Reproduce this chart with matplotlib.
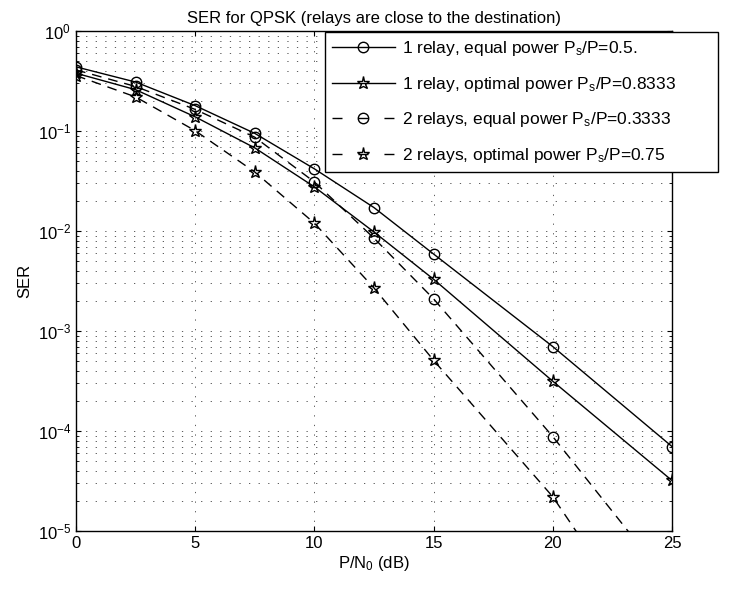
import matplotlib
matplotlib.use("Agg")
import matplotlib.pyplot as plt
import numpy as np

plt.rcParams['font.family'] = ['Liberation Sans', 'DejaVu Sans']
plt.rcParams['mathtext.fontset'] = 'custom'
plt.rcParams['mathtext.rm'] = 'Liberation Sans'
plt.rcParams['mathtext.it'] = 'Liberation Sans'

snr_db = [0, 2.5, 5, 7.5, 10, 12.5, 15, 20, 25]

ser_1relay_equal = [0.44, 0.31, 0.18, 0.095, 0.042, 0.0172, 0.0059, 7.0e-4, 7.0e-5]
ser_1relay_opt = [0.38, 0.26, 0.139, 0.068, 0.0277, 0.0098, 0.0033, 3.15e-4, 3.2e-5]
ser_2relay_equal = [0.41, 0.28, 0.165, 0.087, 0.031, 0.0085, 0.0021, 8.8e-5, 2.8e-6]
ser_2relay_opt = [0.36, 0.22, 0.101, 0.039, 0.012, 0.0027, 5.1e-4, 2.2e-5, 3.8e-7]

labels = [
    '1 relay, equal power P$_s$/P=0.5.',
    '1 relay, optimal power P$_s$/P=0.8333',
    '2 relays, equal power P$_s$/P=0.3333',
    '2 relays, optimal power P$_s$/P=0.75',
]

fig = plt.figure(figsize=(7.36, 5.89), dpi=100)
ax = fig.add_axes([0.1033, 0.0985, 0.8097, 0.8485])

ms_o = 7.5
ms_s = 9.5
dash = (7, 5)
ax.semilogy(snr_db, ser_1relay_equal, 'k-o', mfc='none', ms=ms_o, lw=1, label=labels[0])
ax.semilogy(snr_db, ser_1relay_opt, 'k-*', mfc='none', ms=ms_s, lw=1, label=labels[1])
ax.semilogy(snr_db, ser_2relay_equal, 'k--o', mfc='none', ms=ms_o, lw=1, dashes=dash, label=labels[2])
ax.semilogy(snr_db, ser_2relay_opt, 'k--*', mfc='none', ms=ms_s, lw=1, dashes=dash, label=labels[3])

ax.set_xlim(0, 25)
ax.set_ylim(1e-5, 1)
ax.set_xticks([0, 5, 10, 15, 20, 25])
gridstyle = dict(linestyle=(0, (1.5, 10)), color='0.25', lw=0.6)
ax.grid(True, which='major', axis='both', **gridstyle)
ax.grid(True, which='minor', axis='y', **gridstyle)
ax.tick_params(which='both', direction='in', top=True, right=True, labelsize=12)
ax.minorticks_on()
ax.xaxis.set_minor_locator(matplotlib.ticker.NullLocator())
for s in ax.spines.values():
    s.set_linewidth(1)

ax.set_title('SER for QPSK (relays are close to the destination)', fontsize=12, pad=6)
ax.set_xlabel('P/N$_0$ (dB)', fontsize=12, labelpad=2)
ax.set_ylabel('SER', fontsize=12)

leg = ax.legend(loc='upper left', bbox_to_anchor=(0.418, 0.998, 0.659, 0), mode='expand',
                fontsize=12.5, fancybox=False, edgecolor='k', framealpha=1,
                borderaxespad=0, handlelength=3.6, handletextpad=0.4, labelspacing=0.95)
leg.get_frame().set_linewidth(1)
# MATLAB-like short dashes in the legend: "- o -"
for h in leg.get_lines()[2:]:
    h.set_dashes((7.2, 11.5))

fig.savefig('out.png', dpi=100)
